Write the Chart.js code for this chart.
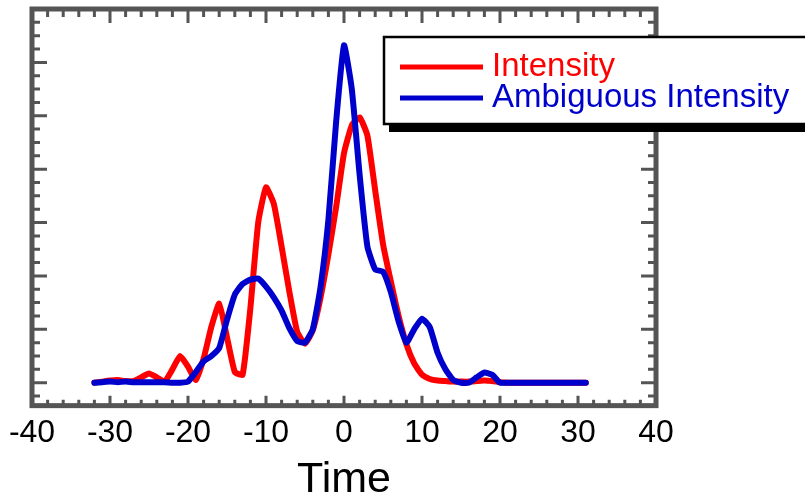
<!DOCTYPE html>
<html>
<head>
<meta charset="utf-8">
<script src="https://cdn.jsdelivr.net/npm/chart.js@4.4.1/dist/chart.umd.min.js"></script>
<style>
  html, body { margin: 0; padding: 0; background: #ffffff; }
  #wrap { width: 805px; height: 496px; position: relative; }
</style>
</head>
<body>
<div id="wrap"><canvas id="c" width="805" height="496"></canvas></div>
<script>
// ---- data ----
const times = [-32,-31,-30,-29,-28,-27,-26,-25,-24,-23,-22,-21,-20,-19,-18,-17,-16,-15,-14,-13,-12,-11,-10,-9,-8,-7,-6,-5,-4,-3,-2,-1,0,1,2,3,4,5,6,7,8,9,10,11,12,13,14,15,16,17,18,19,20,21,22,23,24,25,26,27,28,29,30,31];
const intensity = [0,0.02,0.04,0.05,0.03,0.03,0.1,0.17,0.1,0.02,0.25,0.5,0.3,0.05,0.45,1.05,1.48,0.85,0.2,0.15,1.4,3.0,3.66,3.35,2.55,1.7,0.95,0.73,0.98,1.6,2.4,3.3,4.3,4.82,4.97,4.63,3.6,2.6,1.9,1.25,0.72,0.36,0.15,0.07,0.04,0.03,0.02,0.02,0.02,0.03,0.04,0.03,0.01,0,0,0,0,0,0,0,0,0,0,0];
const ambiguousIntensity = [0,0.01,0.02,0.01,0.02,0.01,0.01,0.01,0.01,0.01,0,0,0.02,0.2,0.4,0.5,0.65,1.18,1.65,1.85,1.93,1.95,1.8,1.6,1.35,1.02,0.78,0.75,1.0,1.8,3.05,4.9,6.32,5.5,3.9,2.55,2.12,2.08,1.7,1.15,0.75,1.0,1.2,1.04,0.56,0.25,0.05,0,0,0.1,0.19,0.15,0,0,0,0,0,0,0,0,0,0,0,0];
const seriesLabels = ['Intensity', 'Ambiguous Intensity'];
const xTickLabels = [-40,-30,-20,-10,0,10,20,30,40];
const xAxisTitle = 'Time';

const FONT = "'Liberation Sans', Arial, Helvetica, sans-serif";
const GRAY = '#555555';

const toPoints = arr => times.map((t, i) => ({ x: t, y: arr[i] }));

// frame + inward ticks drawn from the scales
const framePlugin = {
  id: 'frame',
  afterDatasetsDraw(chart) {
    const { ctx, chartArea: a, scales: { x, y } } = chart;
    ctx.save();
    ctx.strokeStyle = GRAY;
    ctx.lineCap = 'butt';
    ctx.lineWidth = 3;
    const xMin = xTickLabels[0], xMax = xTickLabels[xTickLabels.length - 1];
    for (let v = xMin; v <= xMax; v += 2) {
      const px = x.getPixelForValue(v);
      const major = v % 10 === 0;
      ctx.beginPath();
      ctx.moveTo(px, a.top); ctx.lineTo(px, a.top + (major ? 14 : 8));
      ctx.moveTo(px, a.bottom); ctx.lineTo(px, a.bottom - (major ? 10 : 6));
      ctx.stroke();
    }
    for (let v = -0.25; v <= 6.76; v += 0.25) {
      const py = y.getPixelForValue(v);
      const major = Math.abs(v - Math.round(v)) < 1e-6;
      ctx.beginPath();
      ctx.moveTo(a.left, py); ctx.lineTo(a.left + (major ? 15 : 8), py);
      ctx.moveTo(a.right, py); ctx.lineTo(a.right - (major ? 15 : 8), py);
      ctx.stroke();
    }
    ctx.lineWidth = 5;
    ctx.strokeRect(a.left, a.top, a.right - a.left, a.bottom - a.top);
    ctx.restore();
  }
};

// boxed legend with drop shadow
const legendPlugin = {
  id: 'boxLegend',
  afterDraw(chart) {
    const { ctx } = chart;
    const bx = 384, by = 37, bw = 440, bh = 87;
    ctx.save();
    ctx.fillStyle = '#000';
    ctx.fillRect(bx + 5, by + 8, bw, bh);
    ctx.fillStyle = '#fff';
    ctx.fillRect(bx, by, bw, bh);
    ctx.strokeStyle = '#000';
    ctx.lineWidth = 2.5;
    ctx.strokeRect(bx, by, bw, bh);
    ctx.font = '33px ' + FONT;
    ctx.textBaseline = 'alphabetic';
    ctx.textAlign = 'left';
    const rows = [67, 98];
    chart.data.datasets.forEach((ds, i) => {
      ctx.strokeStyle = ds.borderColor;
      ctx.lineWidth = 5;
      ctx.beginPath();
      ctx.moveTo(400, rows[i]); ctx.lineTo(483, rows[i]);
      ctx.stroke();
      ctx.fillStyle = ds.borderColor;
      ctx.fillText(ds.label, 492, rows[i] + 9);
    });
    ctx.restore();
  }
};

new Chart(document.getElementById('c'), {
  type: 'line',
  data: {
    datasets: [
      { label: seriesLabels[0], data: toPoints(intensity), borderColor: '#ff0000', backgroundColor: '#ff0000',
        borderWidth: 6, pointRadius: 0, tension: 0.15, order: 1, borderJoinStyle: 'round', borderCapStyle: 'round' },
      { label: seriesLabels[1], data: toPoints(ambiguousIntensity), borderColor: '#0000cc', backgroundColor: '#0000cc',
        borderWidth: 6, pointRadius: 0, tension: 0.15, order: 0, borderJoinStyle: 'round', borderCapStyle: 'round' }
    ]
  },
  options: {
    responsive: false,
    animation: false,
    layout: { padding: { left: 32, right: 149, top: 9, bottom: 0 } },
    plugins: { legend: { display: false }, tooltip: { enabled: false } },
    scales: {
      x: {
        type: 'linear',
        min: -40, max: 40,
        afterBuildTicks: s => { s.ticks = xTickLabels.map(v => ({ value: v })); },
        grid: { display: false, drawTicks: false },
        border: { display: false },
        ticks: { color: '#000', font: { family: FONT, size: 32 }, padding: 8, maxRotation: 0, autoSkip: false },
        title: { display: true, text: xAxisTitle, color: '#000', font: { family: FONT, size: 43, lineHeight: 0.72 }, padding: { top: 5, bottom: 0 } }
      },
      y: {
        display: false,
        min: -0.43, max: 7
      }
    }
  },
  plugins: [framePlugin, legendPlugin]
});
</script>
</body>
</html>
